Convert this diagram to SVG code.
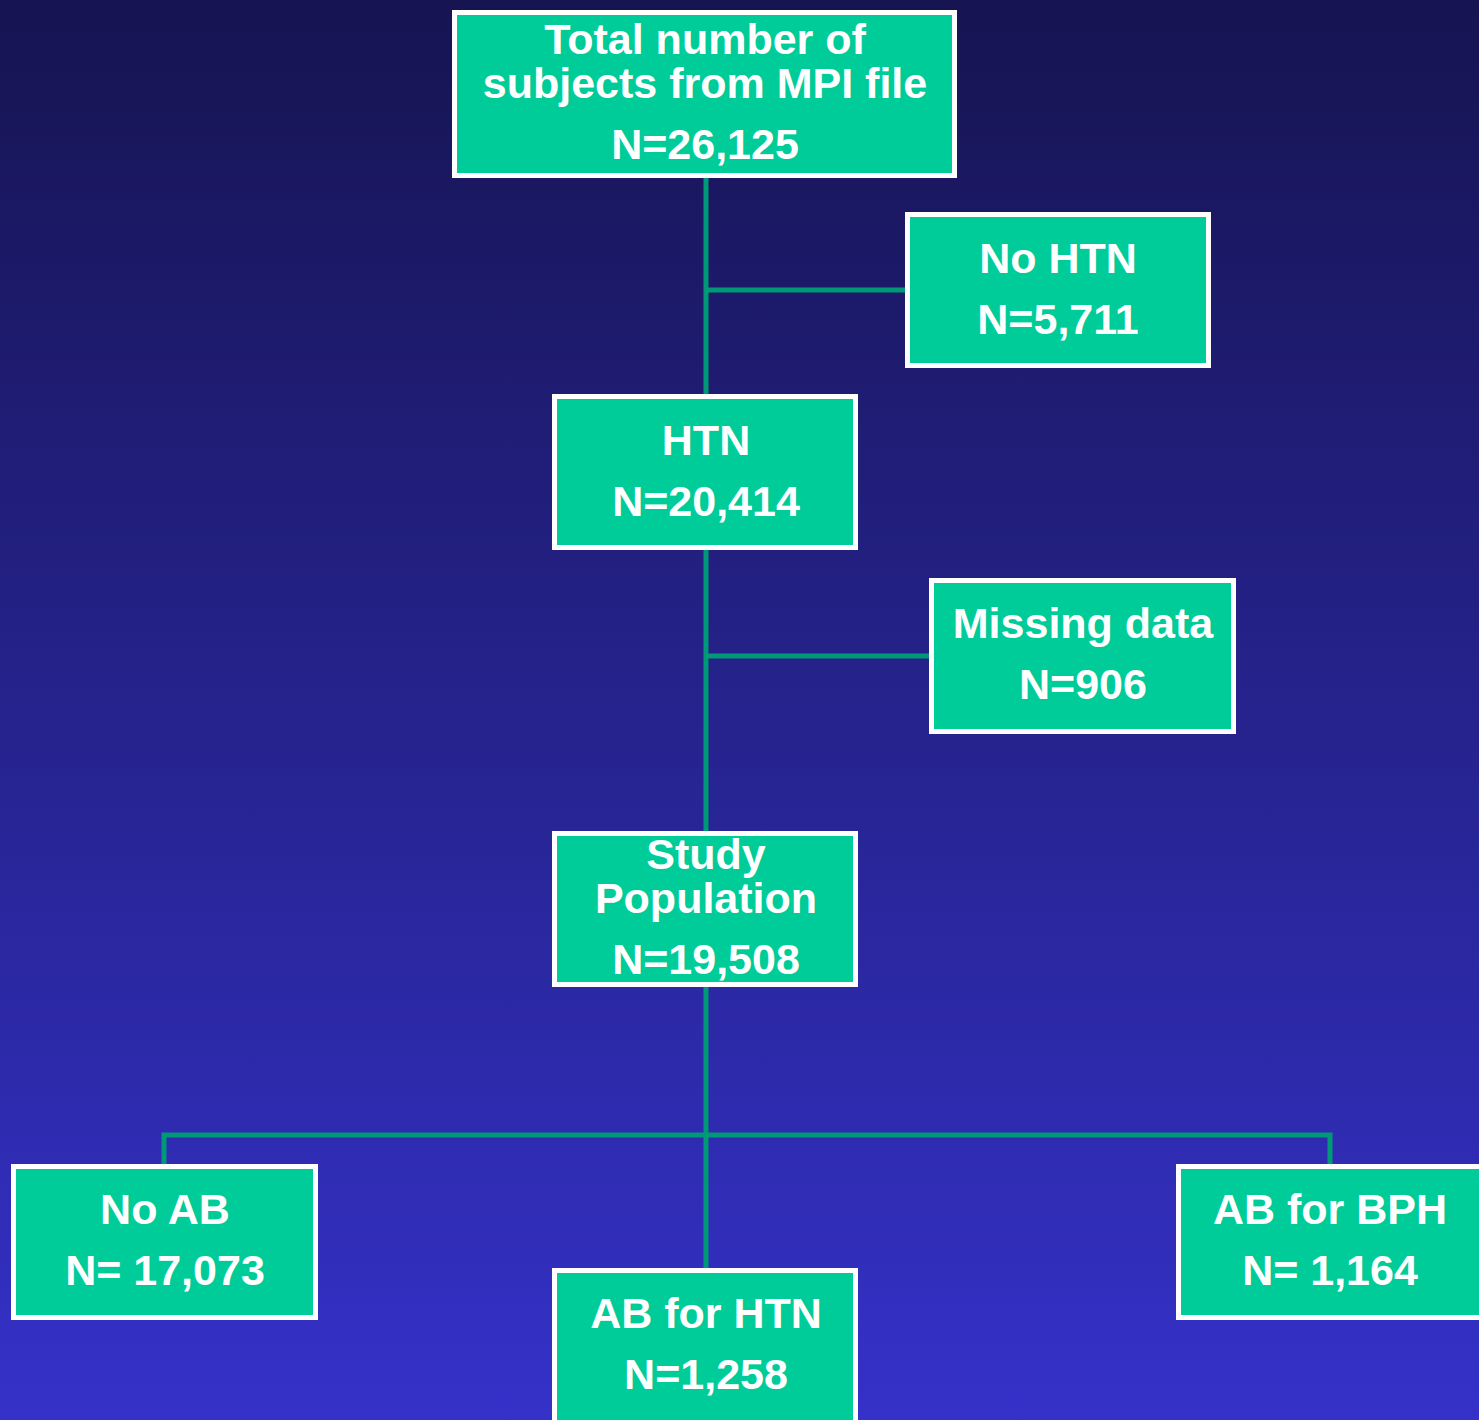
<svg xmlns="http://www.w3.org/2000/svg" width="1479" height="1420" viewBox="0 0 1479 1420">
<defs>
<linearGradient id="bg" x1="0" y1="0" x2="0" y2="1">
<stop offset="0" stop-color="#161451"/>
<stop offset="1" stop-color="#3531C9"/>
</linearGradient>
<style>
.box{fill:#00CC99;stroke:#FFFFFF;stroke-width:5}
.t{font-family:"Liberation Sans",Arial,sans-serif;font-weight:bold;font-size:43px;fill:#FFFFFF;text-anchor:middle}
.c{stroke:#009977;stroke-width:5;fill:none}
</style>
</defs>
<rect width="1479" height="1420" fill="url(#bg)"/>
<g id="connectors">
<path class="c" d="M706 178V1268"/>
<path class="c" d="M706 290H905"/>
<path class="c" d="M706 656H929"/>
<path class="c" d="M164 1164V1135H1330V1164"/>
</g>
<g id="total">
<rect class="box" x="454.5" y="12.5" width="500" height="163"/>
<text class="t" x="705" y="54">Total number of</text>
<text class="t" x="705" y="98">subjects from MPI file</text>
<text class="t" x="705" y="159">N=26,125</text>
</g>
<g id="nohtn">
<rect class="box" x="907.5" y="214.5" width="301" height="151"/>
<text class="t" x="1058" y="273">No HTN</text>
<text class="t" x="1058" y="334">N=5,711</text>
</g>
<g id="htn">
<rect class="box" x="554.5" y="396.5" width="301" height="151"/>
<text class="t" x="706" y="455">HTN</text>
<text class="t" x="706" y="516">N=20,414</text>
</g>
<g id="missing">
<rect class="box" x="931.5" y="580.5" width="302" height="151"/>
<text class="t" x="1083" y="638">Missing data</text>
<text class="t" x="1083" y="699">N=906</text>
</g>
<g id="study">
<rect class="box" x="554.5" y="833.5" width="301" height="151"/>
<text class="t" x="706" y="869">Study</text>
<text class="t" x="706" y="913">Population</text>
<text class="t" x="706" y="974">N=19,508</text>
</g>
<g id="noab">
<rect class="box" x="13.5" y="1166.5" width="302" height="151"/>
<text class="t" x="165" y="1224">No AB</text>
<text class="t" x="165" y="1285">N= 17,073</text>
</g>
<g id="abhtn">
<rect class="box" x="554.5" y="1270.5" width="301" height="160"/>
<text class="t" x="706" y="1328">AB for HTN</text>
<text class="t" x="706" y="1389">N=1,258</text>
</g>
<g id="abbph">
<rect class="box" x="1178.5" y="1166.5" width="310" height="151"/>
<text class="t" x="1330" y="1224">AB for BPH</text>
<text class="t" x="1330" y="1285">N= 1,164</text>
</g>
</svg>
